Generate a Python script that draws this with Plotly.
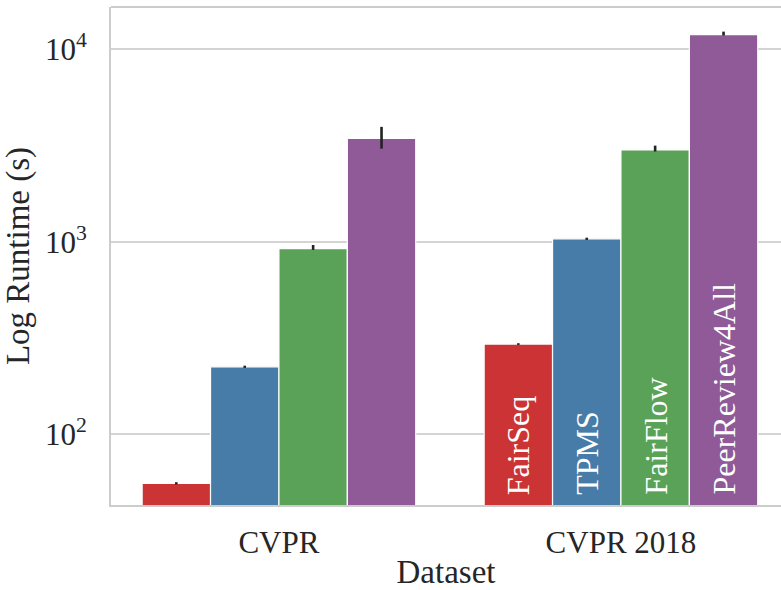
import plotly.graph_objects as go
import numpy as np

datasets = ["CVPR", "CVPR 2018"]
methods = ["FairSeq", "TPMS", "FairFlow", "PeerReview4All"]
colors = ["#cb3335", "#477ca8", "#59a257", "#905998"]

# mean runtime (s) per method, per dataset
runtime = {
    "FairSeq": [55.5, 294],
    "TPMS": [224, 1036],
    "FairFlow": [921, 3000],
    "PeerReview4All": [3443, 11930],
}
ci_upper = {
    "FairSeq": [56.3, 297],
    "TPMS": [227, 1050],
    "FairFlow": [962, 3160],
    "PeerReview4All": [3954, 12360],
}
ci_lower = {
    "FairSeq": [54.8, 291],
    "TPMS": [221, 1022],
    "FairFlow": [907, 2944],
    "PeerReview4All": [3048, 11790],
}

yticks = [100, 1000, 10000]
yticktext = ["10<sup>2</sup>", "10<sup>3</sup>", "10<sup>4</sup>"]

FONT = "Liberation Serif"
TXT = "#262626"
GRID = "#d4d4d4"
SPINE = "#cccccc"

fig = go.Figure()
for m, c in zip(methods, colors):
    vals = runtime[m]
    up = [u - v for u, v in zip(ci_upper[m], vals)]
    lo = [v - l for l, v in zip(ci_lower[m], vals)]
    fig.add_trace(go.Bar(
        name=m, x=datasets, y=vals, marker=dict(color=c, line=dict(color="white", width=1.2)),
        error_y=dict(type="data", array=up, arrayminus=lo, color="#222222", thickness=2.6, width=0),
        showlegend=False,
    ))

bargap = 0.2
n = len(methods)
bw = (1 - bargap) / n
annotations = []
for j, m in enumerate(methods):
    annotations.append(dict(
        x=1 + (j - (n - 1) / 2) * bw, xref="x", y=0, yref="paper",
        text=m, textangle=-90, showarrow=False, xanchor="center", yanchor="bottom",
        yshift=8, font=dict(family=FONT, size=32, color="white"),
    ))

fig.update_layout(
    width=781, height=590,
    margin=dict(l=111, r=0, t=7, b=76),
    paper_bgcolor="white", plot_bgcolor="white",
    barmode="group", bargap=bargap, bargroupgap=0,
    font=dict(family=FONT, color=TXT, size=31),
    annotations=annotations,
    shapes=[dict(type="line", xref="paper", yref="paper", x0=0, x1=1, y0=1, y1=1,
                 line=dict(color=SPINE, width=2))],
)
fig.update_xaxes(
    type="category", range=[-0.491, 1.468],
    showline=True, linecolor=SPINE, linewidth=2, showgrid=False,
    ticks="", ticklabelstandoff=9,
    tickfont=dict(family=FONT, size=31, color=TXT),
    title=dict(text="Dataset", font=dict(family=FONT, size=33, color=TXT), standoff=7),
)
fig.update_yaxes(
    type="log", range=[1.632, 4.22],
    tickvals=yticks, ticktext=yticktext,
    showline=True, linecolor=SPINE, linewidth=2,
    showgrid=True, gridcolor=GRID, gridwidth=1.5, zeroline=False,
    ticks="", ticklabelstandoff=16,
    tickfont=dict(family=FONT, size=31, color=TXT),
    title=dict(text="Log Runtime (s)", font=dict(family=FONT, size=33, color=TXT), standoff=10),
)

fig.write_html("out.html", config={"displayModeBar": False},
               post_script="document.body.style.margin='0';document.body.style.overflow='hidden';")
